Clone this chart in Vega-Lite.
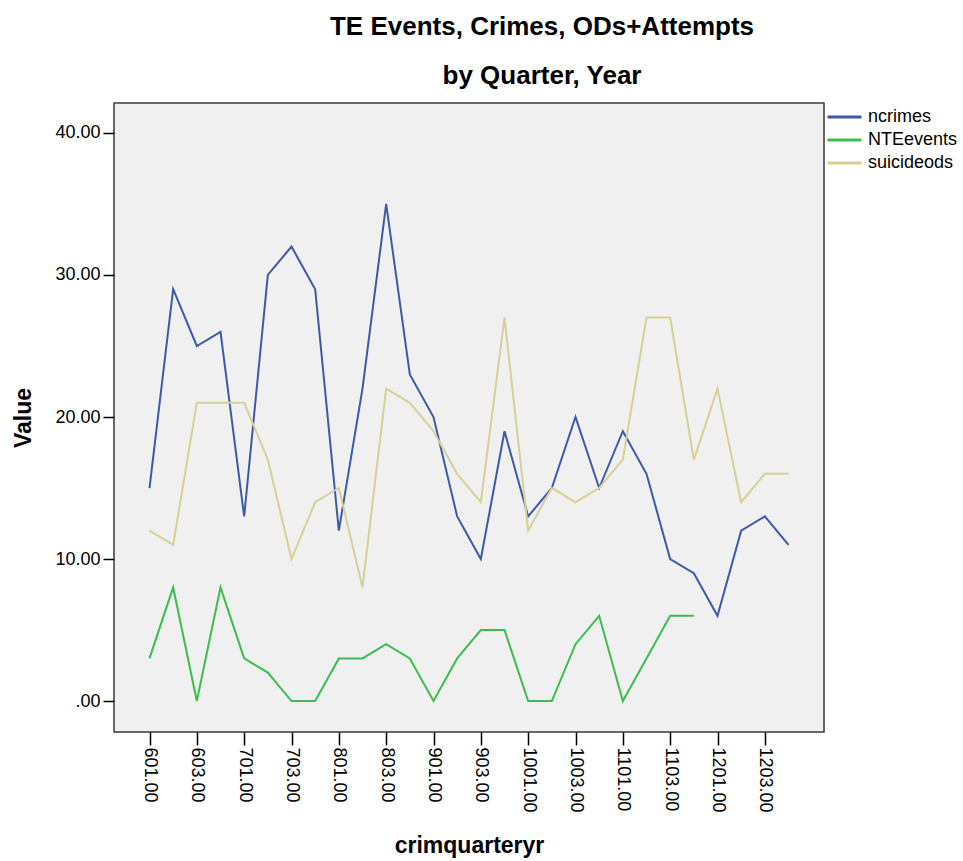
{
  "$schema": "https://vega.github.io/schema/vega-lite/v6.json",
  "autosize": {"type": "none"},
  "padding": {"left": 114, "top": 103, "right": 139, "bottom": 129},
  "width": 710,
  "height": 629,
  "background": "white",
  "title": {
    "text": ["TE Events, Crimes, ODs+Attempts", "by Quarter, Year"],
    "font": "Liberation Sans",
    "fontSize": 26,
    "fontWeight": "bold",
    "color": "black",
    "anchor": "middle",
    "frame": "group",
    "dx": 73,
    "lineHeight": 49,
    "offset": 14
  },
  "config": {
    "view": {"fill": "#f0f0f0", "stroke": "#3a3a3a", "strokeWidth": 1.5},
    "font": "Liberation Sans"
  },
  "data": {
    "values": [
      {"q": "601.00", "series": "ncrimes", "value": 15},
      {"q": "602.00", "series": "ncrimes", "value": 29},
      {"q": "603.00", "series": "ncrimes", "value": 25},
      {"q": "604.00", "series": "ncrimes", "value": 26},
      {"q": "701.00", "series": "ncrimes", "value": 13},
      {"q": "702.00", "series": "ncrimes", "value": 30},
      {"q": "703.00", "series": "ncrimes", "value": 32},
      {"q": "704.00", "series": "ncrimes", "value": 29},
      {"q": "801.00", "series": "ncrimes", "value": 12},
      {"q": "802.00", "series": "ncrimes", "value": 22},
      {"q": "803.00", "series": "ncrimes", "value": 35},
      {"q": "804.00", "series": "ncrimes", "value": 23},
      {"q": "901.00", "series": "ncrimes", "value": 20},
      {"q": "902.00", "series": "ncrimes", "value": 13},
      {"q": "903.00", "series": "ncrimes", "value": 10},
      {"q": "904.00", "series": "ncrimes", "value": 19},
      {"q": "1001.00", "series": "ncrimes", "value": 13},
      {"q": "1002.00", "series": "ncrimes", "value": 15},
      {"q": "1003.00", "series": "ncrimes", "value": 20},
      {"q": "1004.00", "series": "ncrimes", "value": 15},
      {"q": "1101.00", "series": "ncrimes", "value": 19},
      {"q": "1102.00", "series": "ncrimes", "value": 16},
      {"q": "1103.00", "series": "ncrimes", "value": 10},
      {"q": "1104.00", "series": "ncrimes", "value": 9},
      {"q": "1201.00", "series": "ncrimes", "value": 6},
      {"q": "1202.00", "series": "ncrimes", "value": 12},
      {"q": "1203.00", "series": "ncrimes", "value": 13},
      {"q": "1204.00", "series": "ncrimes", "value": 11},
      {"q": "601.00", "series": "NTEevents", "value": 3},
      {"q": "602.00", "series": "NTEevents", "value": 8},
      {"q": "603.00", "series": "NTEevents", "value": 0},
      {"q": "604.00", "series": "NTEevents", "value": 8},
      {"q": "701.00", "series": "NTEevents", "value": 3},
      {"q": "702.00", "series": "NTEevents", "value": 2},
      {"q": "703.00", "series": "NTEevents", "value": 0},
      {"q": "704.00", "series": "NTEevents", "value": 0},
      {"q": "801.00", "series": "NTEevents", "value": 3},
      {"q": "802.00", "series": "NTEevents", "value": 3},
      {"q": "803.00", "series": "NTEevents", "value": 4},
      {"q": "804.00", "series": "NTEevents", "value": 3},
      {"q": "901.00", "series": "NTEevents", "value": 0},
      {"q": "902.00", "series": "NTEevents", "value": 3},
      {"q": "903.00", "series": "NTEevents", "value": 5},
      {"q": "904.00", "series": "NTEevents", "value": 5},
      {"q": "1001.00", "series": "NTEevents", "value": 0},
      {"q": "1002.00", "series": "NTEevents", "value": 0},
      {"q": "1003.00", "series": "NTEevents", "value": 4},
      {"q": "1004.00", "series": "NTEevents", "value": 6},
      {"q": "1101.00", "series": "NTEevents", "value": 0},
      {"q": "1102.00", "series": "NTEevents", "value": 3},
      {"q": "1103.00", "series": "NTEevents", "value": 6},
      {"q": "1104.00", "series": "NTEevents", "value": 6},
      {"q": "601.00", "series": "suicideods", "value": 12},
      {"q": "602.00", "series": "suicideods", "value": 11},
      {"q": "603.00", "series": "suicideods", "value": 21},
      {"q": "604.00", "series": "suicideods", "value": 21},
      {"q": "701.00", "series": "suicideods", "value": 21},
      {"q": "702.00", "series": "suicideods", "value": 17},
      {"q": "703.00", "series": "suicideods", "value": 10},
      {"q": "704.00", "series": "suicideods", "value": 14},
      {"q": "801.00", "series": "suicideods", "value": 15},
      {"q": "802.00", "series": "suicideods", "value": 8},
      {"q": "803.00", "series": "suicideods", "value": 22},
      {"q": "804.00", "series": "suicideods", "value": 21},
      {"q": "901.00", "series": "suicideods", "value": 19},
      {"q": "902.00", "series": "suicideods", "value": 16},
      {"q": "903.00", "series": "suicideods", "value": 14},
      {"q": "904.00", "series": "suicideods", "value": 27},
      {"q": "1001.00", "series": "suicideods", "value": 12},
      {"q": "1002.00", "series": "suicideods", "value": 15},
      {"q": "1003.00", "series": "suicideods", "value": 14},
      {"q": "1004.00", "series": "suicideods", "value": 15},
      {"q": "1101.00", "series": "suicideods", "value": 17},
      {"q": "1102.00", "series": "suicideods", "value": 27},
      {"q": "1103.00", "series": "suicideods", "value": 27},
      {"q": "1104.00", "series": "suicideods", "value": 17},
      {"q": "1201.00", "series": "suicideods", "value": 22},
      {"q": "1202.00", "series": "suicideods", "value": 14},
      {"q": "1203.00", "series": "suicideods", "value": 16},
      {"q": "1204.00", "series": "suicideods", "value": 16}
    ]
  },
  "mark": {"type": "line", "strokeWidth": 2},
  "encoding": {
    "x": {
      "field": "q",
      "type": "ordinal",
      "sort": null,
      "scale": {"type": "point", "padding": 0, "range": [35.5, 674.5]},
      "axis": {
        "title": "crimquarteryr",
        "titleFont": "Liberation Sans",
        "titleFontSize": 23,
        "titleFontWeight": "bold",
        "titleColor": "black",
        "titlePadding": 22,
        "titleX": 355,
        "values": ["601.00", "603.00", "701.00", "703.00", "801.00", "803.00", "901.00", "903.00", "1001.00", "1003.00", "1101.00", "1103.00", "1201.00", "1203.00"],
        "labelAngle": 90,
        "labelAlign": "left",
        "labelBaseline": "middle",
        "labelFontSize": 18,
        "labelColor": "black",
        "labelPadding": 2,
        "tickSize": 13,
        "tickColor": "black",
        "tickWidth": 1.5,
        "domain": false,
        "grid": false
      }
    },
    "y": {
      "field": "value",
      "type": "quantitative",
      "scale": {"domain": [-2.18, 42.11], "nice": false, "zero": false},
      "axis": {
        "title": "Value",
        "titleFont": "Liberation Sans",
        "titleFontSize": 23,
        "titleFontWeight": "bold",
        "titleColor": "black",
        "titlePadding": 19,
        "values": [0, 10, 20, 30, 40],
        "labelExpr": "datum.value == 0 ? '.00' : format(datum.value, '.2f')",
        "labelFontSize": 18,
        "labelColor": "black",
        "labelPadding": 3,
        "tickSize": 11,
        "tickColor": "black",
        "tickWidth": 1.5,
        "domain": false,
        "grid": false
      }
    },
    "color": {
      "field": "series",
      "type": "nominal",
      "scale": {"domain": ["ncrimes", "NTEevents", "suicideods"], "range": ["#3e58ac", "#3cbd4f", "#d6cf98"]},
      "legend": {
        "title": null,
        "orient": "none",
        "legendX": 712,
        "legendY": 4,
        "symbolType": "stroke",
        "symbolSize": 1156,
        "symbolStrokeWidth": 3,
        "labelFontSize": 18,
        "labelColor": "black",
        "labelOffset": 5,
        "clipHeight": 20,
        "rowPadding": 3
      }
    }
  }
}
